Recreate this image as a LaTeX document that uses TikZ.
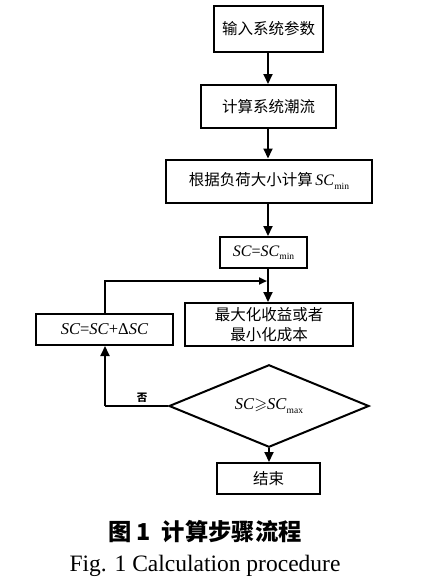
\documentclass[tikz,border=0pt]{standalone}
\usepackage{fontspec}
\usepackage{amssymb}
\setmainfont{Liberation Serif}
\newfontfamily\cjk{Noto Sans CJK SC}
\usetikzlibrary{arrows.meta,shapes.geometric}
\newcommand{\sub}[1]{\raisebox{-0.45ex}{\fontsize{9.5}{9.5}\selectfont #1}}
\newcommand{\SCi}{\textit{SC}}
\begin{document}
\begin{tikzpicture}[x=1pt,y=-1pt,
  boxst/.style={draw,line width=2pt,inner sep=0pt,align=center,font=\fontsize{15.5}{20}\selectfont\cjk},
  arr/.style={line width=2pt,-{Triangle[width=9pt,length=10pt]}},
  sarr/.style={line width=2pt,-{Triangle[width=7pt,length=8pt]}},
  ln/.style={line width=2pt}]
\fill[white] (0,0) rectangle (423,584);
\useasboundingbox (0,0) rectangle (423,584);
\node[boxst,minimum width=109pt,minimum height=46pt] (b1) at (268.5,29) {输入系统参数};
\node[boxst,minimum width=135pt,minimum height=43pt] (b2) at (268.5,106.5) {计算系统潮流};
\node[boxst,minimum width=206pt,minimum height=43pt] (b3) at (269,181) {根据负荷大小计算\,{\rmfamily\fontsize{16}{16}\selectfont\SCi\sub{min}}};
\node[boxst,minimum width=87pt,minimum height=31pt,font=\fontsize{16}{16}\selectfont\rmfamily] (b4) at (263.5,252.5) {\SCi=\SCi\sub{min}};
\node[boxst,minimum width=168pt,minimum height=43pt] (b5) at (269,324.5) {最大化收益或者\\最小化成本};
\node[boxst,minimum width=137pt,minimum height=31pt,font=\fontsize{16.5}{16}\selectfont\rmfamily] (bl) at (104.5,329.5) {\SCi=\SCi+Δ\SCi};
\node[diamond,draw,line width=2pt,inner sep=0pt,minimum width=200pt,minimum height=51pt,font=\fontsize{16.5}{16}\selectfont\rmfamily] (d) at (269,406) {\SCi$\geqslant$\SCi\sub{max}};
\node[boxst,minimum width=103pt,minimum height=31pt] (e) at (268.5,478.5) {结束};
\coordinate (j) at (268,281);
\coordinate (c) at (105,406);
\draw[arr] (b1.south -| j) -- (b2.north -| j);
\draw[arr] (b2.south -| j) -- (b3.north -| j);
\draw[arr] (b3.south -| j) -- (b4.north -| j);
\draw[arr] (b4.south -| j) -- (b5.north -| j);
\draw[sarr] (bl.north -| c) |- ([xshift=-1pt]j);
\draw[ln] (d.west) -- (c);
\draw[arr] (c) -- (bl.south -| c);
\node[font=\fontsize{10.5}{10}\selectfont\cjk\bfseries] (no) at (142,397.5) {否};
\draw[arr] (d.south) -- (e.north -| d.south);
\node[font=\fontsize{23.3}{23}\selectfont\cjk\bfseries] (cap1) at (205,532) {图 1\ \ 计算步骤流程};
\node[font=\fontsize{23.5}{24}\selectfont] (cap2) at (205,566) {Fig. 1 Calculation procedure};
\end{tikzpicture}
\end{document}
